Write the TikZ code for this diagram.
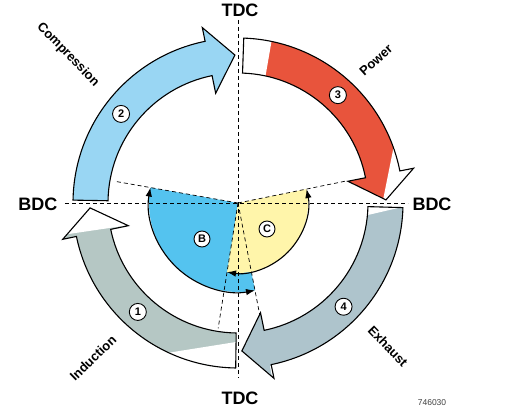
\documentclass[tikz,border=0pt]{standalone}
\usepackage{fontspec}
\setmainfont{Liberation Sans}
\usepackage{tikz}
\usetikzlibrary{arrows.meta}

\definecolor{compcol}{RGB}{153,214,243}
\definecolor{powcol}{RGB}{232,84,60}
\definecolor{exhcol}{RGB}{174,196,204}
\definecolor{indcol}{RGB}{181,199,196}
\definecolor{bcol}{RGB}{84,195,239}
\definecolor{ccol}{RGB}{255,245,170}

% curved stroke band: start angle, barb angle, tip angle
\newcommand{\strokeband}[3]{(#1:165) arc[start angle=#1,end angle=#2,radius=165] -- (#2:179) -- (#3:148) -- (#2:112) -- (#2:130) arc[start angle=#2,end angle=#1,radius=130] -- cycle}

\begin{document}
\begin{tikzpicture}[x=1pt,y=1pt,
  band/.style={draw=black,line width=1.1pt,line join=miter},
  guide/.style={dash pattern=on 4pt off 3pt,line width=0.7pt},
  centre/.style={font=\bfseries\fontsize{18}{18}\selectfont},
  stroke/.style={font=\bfseries\fontsize{13}{13}\selectfont},
  stepno/.style={circle,draw,fill=white,line width=0.9pt,inner sep=0pt,minimum size=17pt,font=\bfseries\fontsize{11}{11}\selectfont},
  swing/.style={line width=1.1pt,{Latex[length=9pt,width=6.5pt]}-{Latex[length=9pt,width=6.5pt]}}]

\useasboundingbox (-238,-212) rectangle (267,203);
\coordinate (O) at (0,0);

% valve sectors
\fill[bcol] (O) -- (170:89) arc[start angle=170,end angle=281,radius=89] -- cycle;
\fill[ccol] (O) -- (11.5:70) arc[start angle=11.5,end angle=-99,radius=70] -- cycle;
\draw[swing] (170:89) arc[start angle=170,end angle=281,radius=89];
\draw[swing] (11.5:70) arc[start angle=11.5,end angle=-99,radius=70];

% dead centres and timing lines
\coordinate (tdcup) at (0,183);
\coordinate (tdcdown) at (0,-175);
\coordinate (bdcleft) at (-173,0);
\coordinate (bdcright) at (170,0);
\coordinate (bopen) at (170:125);
\coordinate (bclose) at (281:115);
\coordinate (copen) at (11.5:111);
\coordinate (cclose) at (261:127);
\draw[guide] (tdcup) -- (tdcdown);
\draw[guide] (bdcleft) -- (bdcright);
\draw[guide] (O) -- (bopen);
\draw[guide] (O) -- (bclose);
\draw[guide] (O) -- (copen);
\draw[guide] (O) -- (cclose);

% compression
\fill[compcol] \strokeband{179}{101.5}{91.2};
\draw[band] \strokeband{179}{101.5}{91.2};

% power
\fill[powcol] \strokeband{88}{11.2}{1.2};
\begin{scope}
  \clip \strokeband{88}{11.2}{1.2};
  \fill[white] (41,205) -- (22,95) -- (-10,95) -- (-10,205) -- cycle;
  \fill[white] (160.4,80) -- (140.4,-20) -- (220,-20) -- (220,80) -- cycle;
\end{scope}
\draw[band] \strokeband{88}{11.2}{1.2};

% exhaust
\fill[exhcol] \strokeband{-1.6}{-78.4}{-88.5};
\begin{scope}
  \clip \strokeband{-1.6}{-78.4}{-88.5};
  \fill[white] (120,-14.3) -- (175,-1.5) -- (175,10) -- (120,10) -- cycle;
  \fill[white] (32,-163) -- (36,-185) -- (60,-185) -- (60,-163) -- cycle;
\end{scope}
\draw[band] \strokeband{-1.6}{-78.4}{-88.5};

% induction
\fill[indcol] \strokeband{269.2}{191.7}{181.9};
\begin{scope}
  \clip \strokeband{269.2}{191.7}{181.9};
  \fill[white] (-100,-154.6) -- (20,-135.5) -- (20,-200) -- (-100,-200) -- cycle;
  \fill[white] (-200,-35.5) -- (-100,-20.8) -- (-100,20) -- (-200,20) -- cycle;
\end{scope}
\draw[band] \strokeband{269.2}{191.7}{181.9};

% labels
\node[centre] (tdcn) at (2,193) {TDC};
\node[centre] (tdcs) at (2,-195) {TDC};
\node[centre] (bdcw) at (-200,-1.5) {BDC};
\node[centre] (bdce) at (194,-1.5) {BDC};
\node[stroke,rotate=-46] (comp) at (-170,148) {Compression};
\node[stroke,rotate=42] (pow) at (138,143) {Power};
\node[stroke,rotate=-46] (exh) at (150,-143) {Exhaust};
\node[stroke,rotate=44] (ind) at (-145,-155) {Induction};

\node[stepno] (s1) at (227.4:148) {1};
\node[stepno] (s2) at (142.7:147) {2};
\node[stepno] (s3) at (47.2:147) {3};
\node[stepno] (s4) at (-44.5:148) {4};
\node[stepno,minimum size=16pt] (sb) at (-36,-36) {B};
\node[stepno,minimum size=16pt] (sc) at (29,-26) {C};

\node[font=\fontsize{8.5}{8.5}\selectfont,text=black!75] (fig) at (194,-200) {746030};
\end{tikzpicture}
\end{document}
